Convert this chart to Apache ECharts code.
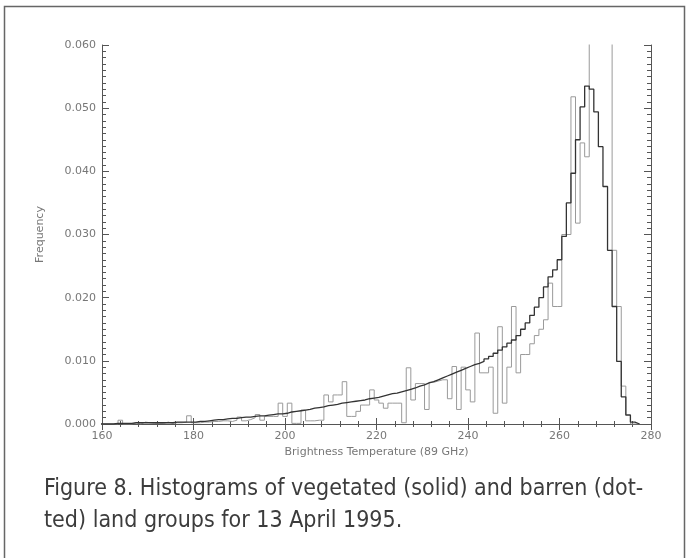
<!DOCTYPE html>
<html>
	<head>
		<meta charset="utf-8">
		<title>Figure 8 - brightness temperature histograms</title>
		<script src="https://cdn.jsdelivr.net/npm/echarts@6/dist/echarts.min.js"></script>
		<style>
			html, body { margin: 0; padding: 0; background: #fff; }
		</style>
	</head>
	<body>
		<div id="main" style="width:688px;height:558px;"></div>
		<script>
			// bin centres (K), 1 K wide bins
			var binStart = 160;
			var binEnd = 277;

			// vegetated land group (solid)
			var vegetated = [
				0, 0, 0, 0.0001, 0.0001, 0.0001, 0.0001, 0.0002, 0.0002, 0.0002,
				0.0002, 0.0002, 0.0002, 0.0002, 0.0002, 0.0002, 0.0003, 0.0003, 0.0003, 0.0003,
				0.0003, 0.0004, 0.0004, 0.0005, 0.0006, 0.0007, 0.0007, 0.0008, 0.0009, 0.0009,
				0.0010, 0.0011, 0.0011, 0.0012, 0.0013, 0.0013, 0.0014, 0.0015, 0.0016, 0.0016,
				0.0017, 0.0019, 0.0020, 0.0021, 0.0022, 0.0023, 0.0025, 0.0026, 0.0027, 0.0029,
				0.0030, 0.0031, 0.0033, 0.0034, 0.0035, 0.0036, 0.0037, 0.0038, 0.0040, 0.0041,
				0.0042, 0.0044, 0.0046, 0.0048, 0.0049, 0.0051, 0.0053, 0.0055, 0.0057, 0.0060,
				0.0062, 0.0065, 0.0067, 0.0070, 0.0073, 0.0076, 0.0079, 0.0082, 0.0085, 0.0088,
				0.0091, 0.0094, 0.0096, 0.0099, 0.0103, 0.0107, 0.0112, 0.0117, 0.0122, 0.0128,
				0.0133, 0.0140, 0.0150, 0.0160, 0.0172, 0.0185, 0.0200, 0.0217, 0.0233, 0.0244,
				0.0260, 0.0297, 0.0350, 0.0397, 0.0450, 0.0502, 0.0535, 0.0530, 0.0494, 0.0439,
				0.0376, 0.0275, 0.0186, 0.0099, 0.0043, 0.0014, 0.0003, 0
			];

			// barren land group (dotted, printed as thin grey line)
			var barren = [
				0, 0, 0, 0, 0.0006, 0, 0, 0.0002, 0, 0.0003,
				0.0002, 0.0001, 0.0001, 0.0001, 0.0003, 0.0001, 0.0002, 0.0002, 0.0003, 0.0013,
				0.0002, 0.0002, 0.0003, 0.0003, 0.0004, 0.0004, 0.0005, 0.0005, 0.0004, 0.0006,
				0.0011, 0.0005, 0.0007, 0.0010, 0.0015, 0.0006, 0.0012, 0.0012, 0.0012, 0.0033,
				0.0012, 0.0033, 0.0001, 0.0001, 0.0022, 0.0005, 0.0005, 0.0006, 0.0006, 0.0046,
				0.0035, 0.0046, 0.0046, 0.0067, 0.0012, 0.0012, 0.0020, 0.0030, 0.0030, 0.0054,
				0.0038, 0.0033, 0.0025, 0.0033, 0.0033, 0.0033, 0.0002, 0.0089, 0.0038, 0.0064,
				0.0064, 0.0023, 0.0066, 0.0068, 0.0070, 0.0070, 0.0040, 0.0091, 0.0023, 0.0090,
				0.0054, 0.0035, 0.0144, 0.0081, 0.0081, 0.0090, 0.0017, 0.0154, 0.0033, 0.0090,
				0.0186, 0.0081, 0.0110, 0.0110, 0.0127, 0.0140, 0.0150, 0.0165, 0.0223, 0.0186,
				0.0186, 0.0300, 0.0300, 0.0518, 0.0318, 0.0445, 0.0423, 0.0750, 0.0750, 0.0750,
				0.0750, 0.0750, 0.0275, 0.0186, 0.0060, 0.0015, 0, 0
			];

			var xTicks = [160, 180, 200, 220, 240, 260, 280];
			var yTicks = [0, 0.01, 0.02, 0.03, 0.04, 0.05, 0.06];

			var captionLines = [
				'Figure 8. Histograms of vegetated (solid) and barren (dot-',
				'ted) land groups for 13 April 1995.'
			];

			// turn bin values into histogram outline points (left and right edge of each bin)
			function steps(values) {
				var pts = [];
				for (var i = 0; i < values.length; i++) {
					var c = binStart + i;
					pts.push([c - 0.5, values[i]]);
					pts.push([c + 0.5, values[i]]);
				}
				return pts;
			}

			var axisCol = '#555';
			var labelCol = '#777';

			var chart = echarts.init(document.getElementById('main'));
			var option = {
				backgroundColor: '#fff',
				animation: false,
				grid: {
					left: 102,
					right: 37,
					top: 45,
					bottom: 134,
					containLabel: false,
					outerBoundsMode: 'none'
				},
				xAxis: [{
					type: 'value',
					min: xTicks[0],
					max: xTicks[xTicks.length - 1],
					interval: 20,
					name: 'Brightness Temperature (89 GHz)',
					nameLocation: 'middle',
					nameGap: 22,
					nameTextStyle: { color: labelCol, fontSize: 11, fontFamily: 'DejaVu Sans' },
					axisLine: { show: true, lineStyle: { color: axisCol, width: 1 } },
					axisTick: { show: true, inside: true, length: 6, lineStyle: { color: axisCol } },
					minorTick: { show: true, splitNumber: 5, length: 3, lineStyle: { color: axisCol } },
					axisLabel: { color: labelCol, fontSize: 11, fontFamily: 'DejaVu Sans', margin: 7 },
					splitLine: { show: false }
				}, {
					type: 'value',
					position: 'top',
					min: xTicks[0],
					max: xTicks[xTicks.length - 1],
					interval: 20,
					axisLine: { show: true, lineStyle: { color: axisCol, width: 1 } },
					axisTick: { show: true, inside: true, length: 6, lineStyle: { color: axisCol } },
					minorTick: { show: true, splitNumber: 5, length: 3, lineStyle: { color: axisCol } },
					axisLabel: { show: false },
					splitLine: { show: false }
				}],
				yAxis: [{
					type: 'value',
					min: yTicks[0],
					max: yTicks[yTicks.length - 1],
					interval: 0.01,
					name: 'Frequency',
					nameLocation: 'middle',
					nameGap: 56,
					nameTextStyle: { color: labelCol, fontSize: 11, fontFamily: 'DejaVu Sans' },
					axisLine: { show: true, lineStyle: { color: axisCol, width: 1 } },
					axisTick: { show: true, inside: true, length: 7, lineStyle: { color: axisCol } },
					minorTick: { show: true, splitNumber: 10, length: 4, lineStyle: { color: axisCol } },
					axisLabel: {
						color: labelCol, fontSize: 11, fontFamily: 'DejaVu Sans', margin: 6,
						formatter: function(v) { return v.toFixed(3); }
					},
					splitLine: { show: false }
				}, {
					type: 'value',
					position: 'right',
					min: yTicks[0],
					max: yTicks[yTicks.length - 1],
					interval: 0.01,
					axisLine: { show: true, lineStyle: { color: axisCol, width: 1 } },
					axisTick: { show: true, inside: true, length: 7, lineStyle: { color: axisCol } },
					minorTick: { show: true, splitNumber: 10, length: 4, lineStyle: { color: axisCol } },
					axisLabel: { show: false },
					splitLine: { show: false }
				}],
				series: [{
					name: 'barren',
					type: 'line',
					xAxisIndex: 0,
					yAxisIndex: 0,
					data: steps(barren),
					showSymbol: false,
					clip: true,
					lineStyle: { color: '#9a9a9a', width: 1 }
				}, {
					name: 'vegetated',
					type: 'line',
					xAxisIndex: 0,
					yAxisIndex: 0,
					data: steps(vegetated),
					showSymbol: false,
					clip: true,
					lineStyle: { color: '#333', width: 1.3 }
				}],
				graphic: [{
					type: 'rect',
					shape: { x: 4.5, y: 6.5, width: 680, height: 600 },
					style: { fill: null, stroke: '#666', lineWidth: 1.5 },
					silent: true
				}, {
					type: 'text',
					left: 44,
					top: 473,
					style: {
						text: captionLines.join('\n'),
						fill: '#3c3c3c',
						font: '23px "Liberation Sans Narrow", "DejaVu Sans Condensed", sans-serif',
						lineHeight: 32
					},
					silent: true
				}]
			};
			chart.setOption(option);
		</script>
	</body>
</html>
